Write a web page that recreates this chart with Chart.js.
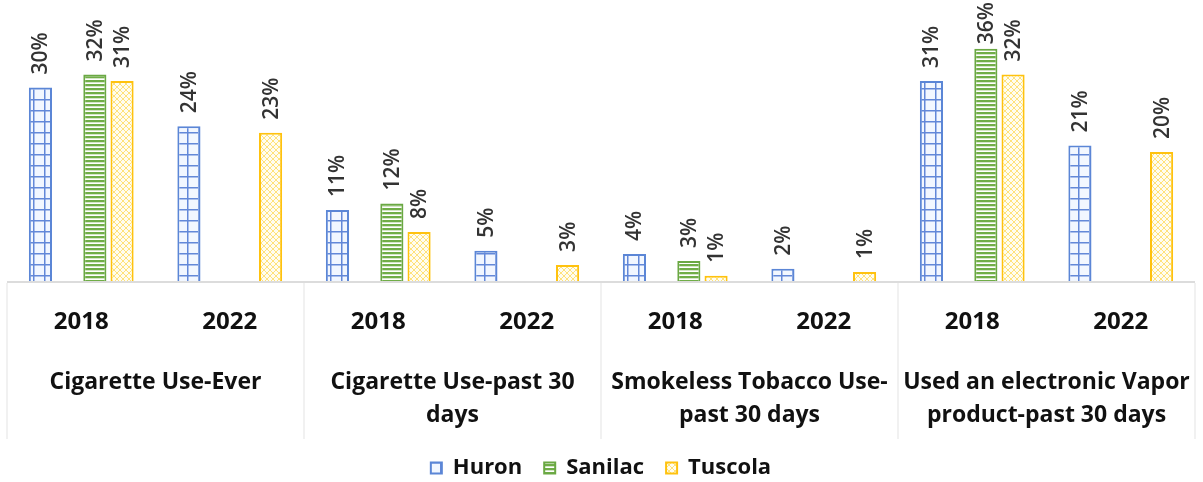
<!DOCTYPE html>
<html>
<head>
<meta charset="utf-8">
<script src="https://cdn.jsdelivr.net/npm/chart.js@4.4.1/dist/chart.umd.min.js"></script>
<style>
  html, body { margin: 0; padding: 0; background: #fff; }
  #wrap { width: 1203px; height: 482px; position: relative; }
</style>
</head>
<body>
<div id="wrap"><canvas id="myChart"></canvas></div>
<script>
// ---- data ----
const years = ["2018", "2022", "2018", "2022", "2018", "2022", "2018", "2022"];
const groups = [
  ["Cigarette Use-Ever"],
  ["Cigarette Use-past 30", "days"],
  ["Smokeless Tobacco Use-", "past 30 days"],
  ["Used an electronic Vapor", "product-past 30 days"],
];
const huron = [30, 24, 11, 4.7, 4.2, 1.9, 31, 21];
const sanilac = [32, null, 12, null, 3.1, null, 36, null];
const tuscola = [31, 23, 7.6, 2.5, 0.8, 1.4, 32, 20];
const spacer = [null, null, null, null, null, null, null, null];

// ---- patterns ----
function makePattern(w, h, draw) {
  const c = document.createElement("canvas");
  c.width = w;
  c.height = h;
  const g = c.getContext("2d");
  draw(g, w, h);
  return g.createPattern(c, "repeat");
}

const ctxMain = document.getElementById("myChart").getContext("2d");

const huronFill = makePattern(11, 11, (g, w, h) => {
  g.fillStyle = "#f2f7ff";
  g.fillRect(0, 0, w, h);
  g.fillStyle = "#6388d8";
  g.fillRect(0, 0, w, 1.5);
  g.fillRect(0, 0, 1.5, h);
});
const sanilacFill = makePattern(8, 4.5, (g, w, h) => {
  g.fillStyle = "#ffffff";
  g.fillRect(0, 0, w, h);
  g.fillStyle = "#70ad47";
  g.fillRect(0, 0, w, 2.3);
});
const tuscolaFill = makePattern(6, 6, (g, w, h) => {
  g.fillStyle = "#fffdf0";
  g.fillRect(0, 0, w, h);
  g.strokeStyle = "#ffe27a";
  g.lineWidth = 1;
  g.beginPath();
  g.moveTo(0, 0); g.lineTo(w, h);
  g.moveTo(w, 0); g.lineTo(0, h);
  g.stroke();
});

// ---- plugins ----
const valueLabels = {
  id: "valueLabels",
  afterDatasetsDraw(chart) {
    const { ctx } = chart;
    ctx.save();
    ctx.font = "600 21px 'Open Sans'";
    ctx.fillStyle = "#333";
    ctx.textBaseline = "middle";
    ctx.textAlign = "left";
    chart.data.datasets.forEach((ds, di) => {
      if (ds.label === "") return;
      const meta = chart.getDatasetMeta(di);
      meta.data.forEach((bar, i) => {
        const v = ds.data[i];
        if (v == null) return;
        const txt = Math.round(v) + "%";
        const tw = ctx.measureText(txt).width;
        let start = bar.y - 13;
        if (start - tw < 2) start = tw + 2;
        ctx.save();
        ctx.translate(bar.x + 1, start);
        ctx.rotate(-Math.PI / 2);
        ctx.fillText(txt, 0, 0);
        ctx.restore();
      });
    });
    ctx.restore();
  },
};

const groupAxis = {
  id: "groupAxis",
  afterDraw(chart) {
    const { ctx, chartArea } = chart;
    const x = chart.scales.x;
    const bottom = chartArea.bottom;
    const slot = x.getPixelForValue(1) - x.getPixelForValue(0);

    ctx.save();
    // baseline + dividers
    ctx.strokeStyle = "#dcdcdc";
    ctx.lineWidth = 2;
    ctx.beginPath();
    ctx.moveTo(chartArea.left, bottom + 1);
    ctx.lineTo(chartArea.right, bottom + 1);
    ctx.stroke();
    ctx.strokeStyle = "#ececec";
    ctx.lineWidth = 1.5;
    for (let g = 0; g <= groups.length; g++) {
      const px = x.getPixelForValue(g * 2) - slot / 2;
      ctx.beginPath();
      ctx.moveTo(px, bottom + 2);
      ctx.lineTo(px, bottom + 158);
      ctx.stroke();
    }

    ctx.fillStyle = "#111";
    ctx.textAlign = "center";
    ctx.textBaseline = "middle";
    ctx.font = "bold 24px 'Open Sans'";
    years.forEach((y, i) => {
      ctx.fillText(y, x.getPixelForValue(i), bottom + 41);
    });

    ctx.font = "bold 23px 'Open Sans'";
    groups.forEach((lines, g) => {
      const cx = (x.getPixelForValue(g * 2) + x.getPixelForValue(g * 2 + 1)) / 2;
      lines.forEach((ln, k) => {
        ctx.fillText(ln, cx, bottom + 101 + k * 33);
      });
    });
    ctx.restore();
  },
};

// ---- chart ----
new Chart(ctxMain, {
  type: "bar",
  data: {
    labels: years,
    datasets: [
      {
        label: "Huron",
        data: huron,
        backgroundColor: huronFill,
        borderColor: "#5b86d6",
        borderWidth: 2,
      },
      {
        label: "",
        data: spacer,
      },
      {
        label: "Sanilac",
        data: sanilac,
        backgroundColor: sanilacFill,
        borderColor: "#6aa843",
        borderWidth: 2,
      },
      {
        label: "Tuscola",
        data: tuscola,
        backgroundColor: tuscolaFill,
        borderColor: "#ffc20e",
        borderWidth: 2,
      },
    ],
  },
  options: {
    responsive: true,
    maintainAspectRatio: false,
    animation: false,
    barPercentage: 0.85,
    categoryPercentage: 0.733,
    layout: { padding: { top: 23, left: 7, right: 8, bottom: -7 } },
    scales: {
      x: {
        grid: { display: false },
        border: { display: false },
        ticks: { display: false },
        afterFit(scale) {
          scale.height = 154;
        },
      },
      y: {
        display: false,
        min: 0,
        max: 40,
      },
    },
    plugins: {
      legend: {
        position: "bottom",
        labels: {
          boxWidth: 11,
          boxHeight: 11,
          padding: 22,
          color: "#111",
          font: { family: "'Open Sans'", size: 22, weight: "bold" },
          filter: (item) => item.text !== "",
        },
      },
      tooltip: { enabled: false },
    },
  },
  plugins: [valueLabels, groupAxis],
});
</script>
</body>
</html>
